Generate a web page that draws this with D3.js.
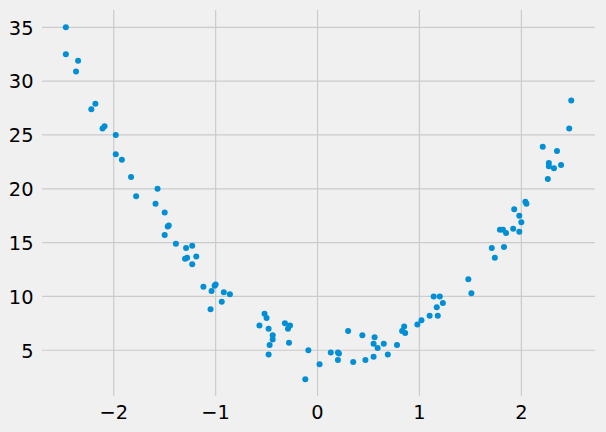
<!DOCTYPE html>
<html>
<head>
<meta charset="utf-8">
<script src="https://cdn.jsdelivr.net/npm/d3@7"></script>
<style>
html,body{margin:0;padding:0;background:#f0f0f0;}
svg{display:block;}
text{font-family:"DejaVu Sans",sans-serif;font-size:19.4px;fill:#000;}
</style>
</head>
<body>
<svg id="chart" width="606" height="432"></svg>
<script>
const xs = [-2.47,-2.47,-2.35,-2.37,-2.18,-2.22,-2.09,-2.11,-1.98,-1.98,-1.92,-1.83,-1.57,-1.78,-1.59,-1.50,-1.46,-1.47,-1.50,-1.39,-1.29,-1.23,-1.30,-1.28,-1.19,-1.23,-1.12,-1.01,-1.00,-1.04,-0.92,-0.86,-0.94,-1.05,-0.52,-0.50,-0.57,-0.48,-0.44,-0.44,-0.47,-0.48,-0.32,-0.27,-0.29,-0.28,-0.09,-0.12,0.02,0.13,0.20,0.21,0.20,0.30,0.35,0.44,0.47,0.56,0.55,0.59,0.55,0.65,0.69,0.78,0.85,0.83,0.86,0.98,1.02,1.10,1.18,1.17,1.23,1.14,1.20,1.48,1.51,1.71,1.74,1.83,1.79,1.82,1.85,1.92,1.98,1.93,1.98,2.00,2.04,2.05,2.21,2.35,2.27,2.27,2.32,2.39,2.26,2.49,2.47];
const ys = [35.0,32.5,31.9,30.9,27.9,27.4,25.8,25.6,25.0,23.2,22.7,21.1,20.0,19.3,18.6,17.8,16.6,16.5,15.7,14.9,14.5,14.7,13.5,13.6,13.7,13.0,10.9,11.0,11.1,10.5,10.4,10.2,9.5,8.8,8.4,8.0,7.3,7.0,6.4,6.0,5.5,4.6,7.5,7.3,7.0,5.7,5.0,2.3,3.7,4.8,4.8,4.7,4.1,6.8,3.9,6.4,4.1,6.2,5.6,5.2,4.4,5.6,4.6,5.5,7.2,6.8,6.6,7.4,7.8,8.2,8.2,9.0,9.4,10.0,10.0,11.6,10.3,14.5,13.6,14.6,16.2,16.2,15.9,16.3,16.0,18.1,17.5,16.9,18.8,18.6,23.9,23.5,22.4,22.1,21.9,22.2,20.9,28.2,25.6];
const xTicks = [-2,-1,0,1,2];
const yTicks = [5,10,15,20,25,30,35];

(function(){
const svg = d3.select("#chart");
const pLeft = 42, pRight = 595, pTop = 10.1, pBottom = 395.7;
const x = d3.scaleLinear().domain([-2.704, 2.723]).range([pLeft, pRight]);
const y = d3.scaleLinear().domain([0.78, 36.6]).range([pBottom, pTop]);

svg.append("rect").attr("width",606).attr("height",432).attr("fill","#f0f0f0");

const grid = svg.append("g");
grid.selectAll("line.h").data(yTicks).enter().append("line")
  .attr("x1",pLeft).attr("x2",pRight)
  .attr("y1",d=>y(d)).attr("y2",d=>y(d))
  .attr("stroke","#cbcbcb").attr("stroke-width",1.2);
grid.selectAll("line.v").data(xTicks).enter().append("line")
  .attr("y1",pTop).attr("y2",pBottom)
  .attr("x1",d=>x(d)).attr("x2",d=>x(d))
  .attr("stroke","#cbcbcb").attr("stroke-width",1.2);

const fmt = d3.format("d");
svg.append("g").selectAll("text").data(yTicks).enter().append("text")
  .attr("x",33.5).attr("y",d=>y(d)+7.3).attr("text-anchor","end").text(d=>fmt(d));
svg.append("g").selectAll("text").data(xTicks).enter().append("text")
  .attr("x",d=>x(d)).attr("y",419.3).attr("text-anchor","middle").text(d=>fmt(d));

svg.append("g").selectAll("circle").data(xs.map((v,i)=>[v,ys[i]])).enter().append("circle")
  .attr("cx",d=>x(d[0])).attr("cy",d=>y(d[1])).attr("r",3.0)
  .attr("fill","#008fd5");
})();
</script>
</body>
</html>
